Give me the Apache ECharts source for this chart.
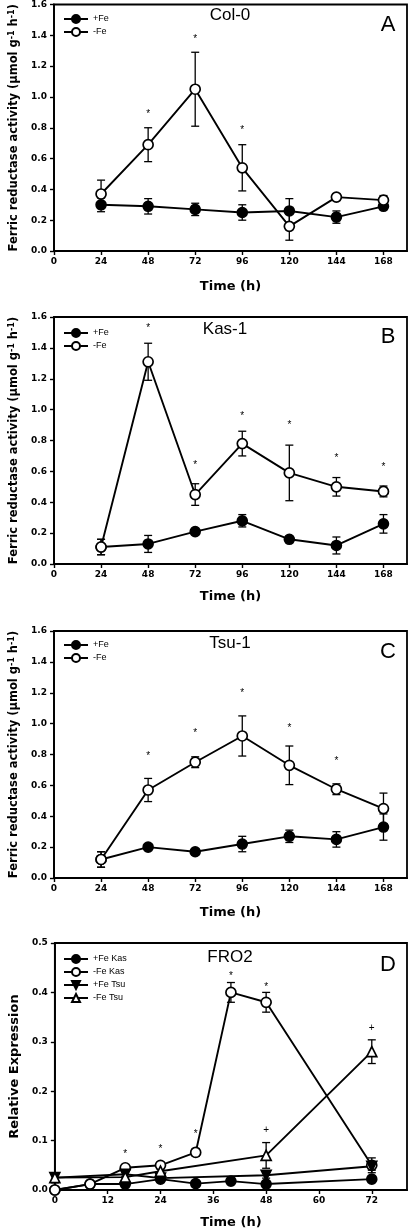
<!DOCTYPE html>
<html>
<head>
<meta charset="utf-8">
<script src="https://cdn.jsdelivr.net/npm/echarts@6/dist/echarts.min.js"></script>
<style>html,body{margin:0;padding:0;background:#fff;}#c{width:409px;height:1232px;}</style>
</head>
<body>
<div id="c"></div>
<script>
// ---------- data ----------
const hours = [24, 48, 72, 96, 120, 144, 168];
const hourTicks = [0, 24, 48, 72, 96, 120, 144, 168];
const activityTicks = [0, 0.2, 0.4, 0.6, 0.8, 1.0, 1.2, 1.4, 1.6];

// Panel A: Col-0
const colPlusFe = [0.30, 0.29, 0.27, 0.25, 0.26, 0.22, 0.29];
const colPlusFeErr = [0.045, 0.05, 0.04, 0.05, 0.08, 0.04, 0.02];
const colMinusFe = [0.37, 0.69, 1.05, 0.54, 0.16, 0.35, 0.33];
const colMinusFeErr = [0.09, 0.11, 0.24, 0.15, 0.09, 0.02, 0.03];
const colMarks = [[48, 0.90, '*'], [72, 1.39, '*'], [96, 0.80, '*']];

// Panel B: Kas-1
const kasPlusFe = [0.11, 0.13, 0.21, 0.28, 0.16, 0.12, 0.26];
const kasPlusFeErr = [0.05, 0.055, 0.01, 0.04, 0.015, 0.055, 0.06];
const kasMinusFe = [0.11, 1.31, 0.45, 0.78, 0.59, 0.50, 0.47];
const kasMinusFeErr = [0.05, 0.12, 0.07, 0.08, 0.18, 0.06, 0.035];
const kasMarks = [[48, 1.54, '*'], [72, 0.65, '*'], [96, 0.97, '*'], [120, 0.91, '*'], [144, 0.70, '*'], [168, 0.64, '*']];

// Panel C: Tsu-1
const tsuPlusFe = [0.12, 0.20, 0.17, 0.22, 0.27, 0.25, 0.33];
const tsuPlusFeErr = [0.05, 0.01, 0.02, 0.05, 0.04, 0.05, 0.085];
const tsuMinusFe = [0.12, 0.57, 0.75, 0.92, 0.73, 0.575, 0.45];
const tsuMinusFeErr = [0.05, 0.075, 0.035, 0.13, 0.125, 0.035, 0.10];
const tsuMarks = [[48, 0.80, '*'], [72, 0.95, '*'], [96, 1.21, '*'], [120, 0.98, '*'], [144, 0.77, '*']];

// Panel D: FRO2 relative expression
const froTicks = [0, 12, 24, 36, 48, 60, 72];
const exprTicks = [0, 0.1, 0.2, 0.3, 0.4, 0.5];
const froKasHours = [0, 8, 16, 24, 32, 40, 48, 72];
const froPlusKas = [0.0, 0.012, 0.012, 0.022, 0.013, 0.018, 0.012, 0.022];
const froPlusKasErr = [0.003, 0.003, 0.004, 0.004, 0.004, 0.004, 0.004, 0.005];
const froMinusKas = [0.0, 0.012, 0.045, 0.05, 0.076, 0.40, 0.38, 0.05];
const froMinusKasErr = [0.002, 0.003, 0.004, 0.004, 0.008, 0.02, 0.02, 0.015];
const froTsuHours = [0, 16, 24, 48, 72];
const froPlusTsu = [0.025, 0.032, 0.024, 0.03, 0.048];
const froPlusTsuErr = [0.01, 0.005, 0.005, 0.006, 0.008];
const froMinusTsu = [0.025, 0.026, 0.038, 0.07, 0.28];
const froMinusTsuErr = [0.01, 0.005, 0.005, 0.026, 0.024];
const froMarks = [[16, 0.076, '*'], [24, 0.086, '*'], [32, 0.116, '*'], [40, 0.437, '*'], [48, 0.414, '*'], [48, 0.121, '+'], [72, 0.328, '+']];

// ---------- styling helpers ----------
const BOLD = 'DejaVu Sans';
const SANS = 'Liberation Sans';
const INK = '#000';

function lineSeries(name, xs, ys, gi, filled, symbol, rotate) {
  return {
    type: 'line', name: name, xAxisIndex: gi, yAxisIndex: gi,
    data: xs.map((x, i) => [x, ys[i]]),
    symbol: symbol, symbolSize: 10, symbolRotate: rotate || 0,
    showAllSymbol: true,
    lineStyle: { color: INK, width: 1.9 },
    itemStyle: filled ? { color: INK, borderColor: INK, borderWidth: 1.6 }
                      : { color: '#fff', borderColor: INK, borderWidth: 1.7 },
    emphasis: { disabled: true }, z: 3, animation: false
  };
}
function errSeries(xs, ys, es, gi) {
  return {
    type: 'custom', xAxisIndex: gi, yAxisIndex: gi, silent: true, z: 2, animation: false,
    data: xs.map((x, i) => [x, ys[i], es[i]]),
    renderItem: function (params, api) {
      const x = api.value(0), y = api.value(1), e = api.value(2);
      const t = api.coord([x, y + e]), b = api.coord([x, y - e]);
      const w = 4, st = { stroke: INK, lineWidth: 1.3 };
      return { type: 'group', children: [
        { type: 'line', shape: { x1: t[0], y1: t[1], x2: b[0], y2: b[1] }, style: st },
        { type: 'line', shape: { x1: t[0] - w, y1: t[1], x2: t[0] + w, y2: t[1] }, style: st },
        { type: 'line', shape: { x1: b[0] - w, y1: b[1], x2: b[0] + w, y2: b[1] }, style: st }
      ] };
    }
  };
}
function markSeries(points, gi) {
  return {
    type: 'custom', xAxisIndex: gi, yAxisIndex: gi, silent: true, z: 4, animation: false,
    data: points.map(p => [p[0], p[1]]),
    renderItem: function (params, api) {
      const c = api.coord([api.value(0), api.value(1)]);
      const ch = points[params.dataIndex][2];
      return { type: 'text', x: c[0], y: c[1] + (ch === '*' ? 2 : 0),
        style: { text: ch, fill: INK, font: '10px "Liberation Sans"', textAlign: 'center', textVerticalAlign: 'middle' } };
    }
  };
}

const gridTops = [4, 317, 631, 943];
const grids = gridTops.map(t => ({ left: 54, top: t, width: 353, height: 247, show: true, borderColor: INK, borderWidth: 1.8 }));

const axisLineStyle = { show: true, onZero: false, lineStyle: { color: INK, width: 1.8 } };
const tickStyle = { show: true, length: 4, lineStyle: { color: INK, width: 1.4 } };
const labelStyle = { color: INK, fontFamily: BOLD, fontWeight: 'bold', fontSize: 9 };

const xGaps = [29, 26, 28, 26];
const xAxes = [0, 1, 2, 3].map(i => {
  const isD = i === 3;
  const ticks = isD ? froTicks : hourTicks;
  return {
    gridIndex: i, type: 'value', min: 0, max: isD ? 80 : 180, interval: isD ? 12 : 24,
    axisLine: axisLineStyle,
    axisTick: Object.assign({ customValues: ticks }, tickStyle),
    axisLabel: Object.assign({ customValues: ticks, margin: 6 }, labelStyle),
    splitLine: { show: false },
    name: 'Time (h)', nameLocation: 'middle', nameGap: xGaps[i],
    nameTextStyle: { color: INK, fontFamily: BOLD, fontWeight: 'bold', fontSize: 13 }
  };
});
const yAxes = [0, 1, 2, 3].map(i => {
  const isD = i === 3;
  return {
    gridIndex: i, type: 'value', min: 0, max: isD ? 0.5 : 1.6, interval: isD ? 0.1 : 0.2,
    axisLine: axisLineStyle,
    axisTick: Object.assign({ customValues: isD ? exprTicks : activityTicks }, tickStyle),
    axisLabel: Object.assign({ customValues: isD ? exprTicks : activityTicks, margin: 7, formatter: v => v.toFixed(1) }, labelStyle),
    splitLine: { show: false },
    name: isD ? 'Relative Expression' : 'Ferric reductase activity (μmol g{s|-1} h{s|-1})',
    nameLocation: 'middle', nameRotate: 90, nameGap: isD ? 30 : 31,
    nameTextStyle: { color: INK, fontFamily: BOLD, fontWeight: 'bold', fontSize: isD ? 13 : 11.5,
      rich: { s: { color: INK, fontFamily: BOLD, fontWeight: 'bold', fontSize: 8, verticalAlign: 'top' } } }
  };
});

const legendBase = { orient: 'vertical', itemWidth: 24, itemHeight: 10, itemGap: 3, padding: 0, selectedMode: false,
  textStyle: { color: INK, fontFamily: SANS, fontSize: 9 } };
const legends = [
  Object.assign({ left: 63, top: 14, data: ['+Fe', '-Fe'] }, legendBase),
  Object.assign({ left: 63, top: 328, data: ['+Fe', '-Fe'] }, legendBase),
  Object.assign({ left: 63, top: 640, data: ['+Fe', '-Fe'] }, legendBase),
  Object.assign({ left: 63, top: 954, data: ['+Fe Kas', '-Fe Kas', '+Fe Tsu', '-Fe Tsu'] }, legendBase)
];

function label(text, x, y, size) {
  return { type: 'text', x: x, y: y, silent: true,
    style: { text: text, fill: INK, font: size + 'px "Liberation Sans"', textAlign: 'center', textVerticalAlign: 'middle' } };
}

const series = [
  errSeries(hours, colPlusFe, colPlusFeErr, 0), errSeries(hours, colMinusFe, colMinusFeErr, 0),
  lineSeries('+Fe', hours, colPlusFe, 0, true, 'circle'),
  lineSeries('-Fe', hours, colMinusFe, 0, false, 'circle'),
  markSeries(colMarks, 0),

  errSeries(hours, kasPlusFe, kasPlusFeErr, 1), errSeries(hours, kasMinusFe, kasMinusFeErr, 1),
  lineSeries('+Fe', hours, kasPlusFe, 1, true, 'circle'),
  lineSeries('-Fe', hours, kasMinusFe, 1, false, 'circle'),
  markSeries(kasMarks, 1),

  errSeries(hours, tsuPlusFe, tsuPlusFeErr, 2), errSeries(hours, tsuMinusFe, tsuMinusFeErr, 2),
  lineSeries('+Fe', hours, tsuPlusFe, 2, true, 'circle'),
  lineSeries('-Fe', hours, tsuMinusFe, 2, false, 'circle'),
  markSeries(tsuMarks, 2),

  errSeries(froKasHours, froPlusKas, froPlusKasErr, 3), errSeries(froKasHours, froMinusKas, froMinusKasErr, 3),
  errSeries(froTsuHours, froPlusTsu, froPlusTsuErr, 3), errSeries(froTsuHours, froMinusTsu, froMinusTsuErr, 3),
  lineSeries('+Fe Kas', froKasHours, froPlusKas, 3, true, 'circle'),
  lineSeries('-Fe Kas', froKasHours, froMinusKas, 3, false, 'circle'),
  lineSeries('+Fe Tsu', froTsuHours, froPlusTsu, 3, true, 'triangle', 180),
  lineSeries('-Fe Tsu', froTsuHours, froMinusTsu, 3, false, 'triangle'),
  markSeries(froMarks, 3)
];

const chart = echarts.init(document.getElementById('c'), null, { renderer: 'canvas' });
chart.setOption({
  animation: false,
  backgroundColor: '#fff',
  grid: grids, xAxis: xAxes, yAxis: yAxes, legend: legends, series: series,
  graphic: [
    label('Col-0', 230, 15, 17), label('A', 388, 25, 22),
    label('Kas-1', 225, 329, 17), label('B', 388, 337, 22),
    label('Tsu-1', 230, 643, 17), label('C', 388, 652, 22),
    label('FRO2', 230, 957, 17), label('D', 388, 965, 22)
  ]
});
</script>
</body>
</html>
